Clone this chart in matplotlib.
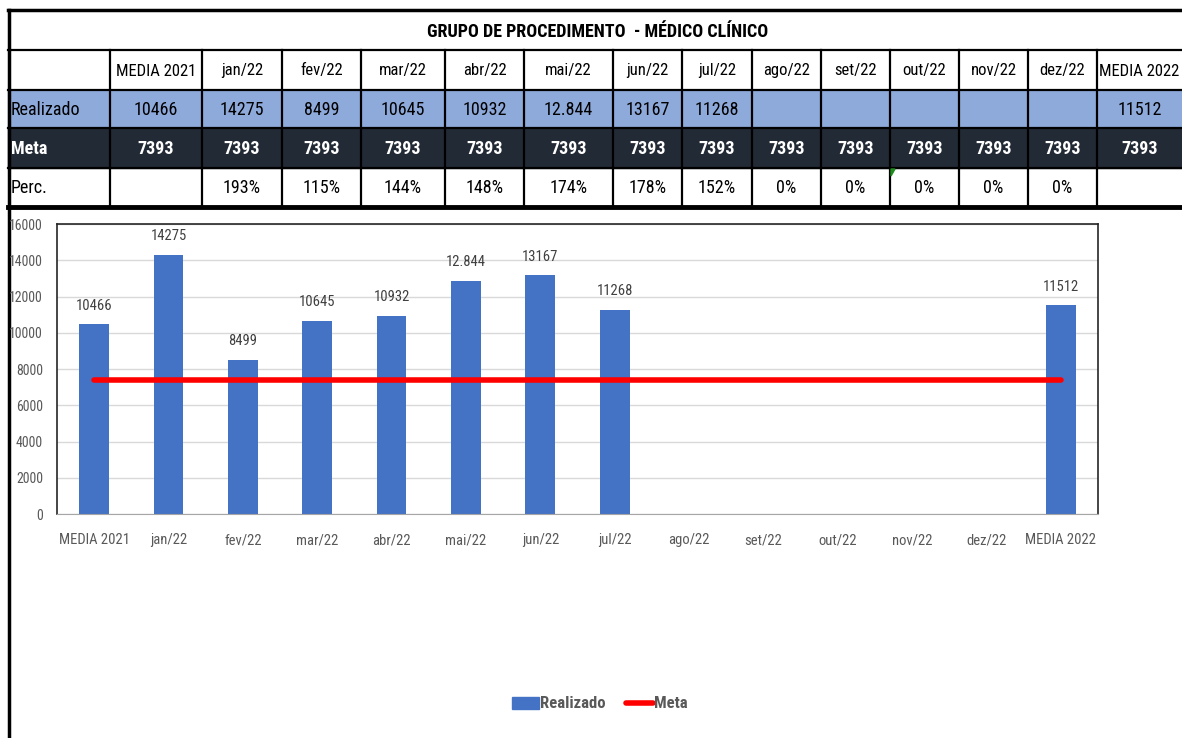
import numpy as np
import matplotlib.pyplot as plt
from matplotlib import font_manager
from matplotlib.patches import Rectangle, Polygon, Patch
from matplotlib.lines import Line2D

# pick the narrowest installed font we can find
nomes = {f.name for f in font_manager.fontManager.ttflist}
fonte = 'DejaVu Sans'
for f in ['Liberation Sans Narrow', 'Roboto Condensed', 'Open Sans Condensed', 'Roboto', 'Liberation Sans']:
    if f in nomes:
        fonte = f
        break
plt.rcParams['font.family'] = [fonte, 'DejaVu Sans']

# data
categorias = ['MEDIA 2021', 'jan/22', 'fev/22', 'mar/22', 'abr/22', 'mai/22', 'jun/22',
              'jul/22', 'ago/22', 'set/22', 'out/22', 'nov/22', 'dez/22', 'MEDIA 2022']
realizado = [10466, 14275, 8499, 10645, 10932, 12844, 13167, 11268,
             None, None, None, None, None, 11512]
realizado_txt = ['10466', '14275', '8499', '10645', '10932', '12.844', '13167', '11268',
                 '', '', '', '', '', '11512']
meta = [7393] * 14
perc = ['', '193%', '115%', '144%', '148%', '174%', '178%', '152%',
        '0%', '0%', '0%', '0%', '0%', '']
titulo = 'GRUPO DE PROCEDIMENTO  - MÉDICO CLÍNICO'

W, H = 1182, 738
fig = plt.figure(figsize=(W / 100, H / 100), dpi=100)

# ---- table drawn on a full-figure axes in pixel units ----
tab = fig.add_axes([0, 0, 1, 1])
tab.set_xlim(0, W)
tab.set_ylim(H, 0)
tab.axis('off')

col_edges = [8, 110, 202, 282, 361, 445, 524, 613, 682, 752, 821, 890, 959, 1028, 1097, 1182]
row_edges = [10, 50, 90, 128, 168, 207]
cor_real = '#8EAADB'
cor_meta = '#222A35'

tab.add_patch(Rectangle((8, 90), W - 8, 38, color=cor_real, zorder=0))
tab.add_patch(Rectangle((8, 128), W - 8, 40, color=cor_meta, zorder=0))

for y in row_edges[1:-1]:
    tab.plot([8, W], [y, y], color='black', lw=1.6, zorder=2)
tab.plot([8, W], [10, 10], color='black', lw=2.5, zorder=2)
tab.plot([8, W], [207, 207], color='black', lw=3.5, zorder=2)
for x in col_edges[1:-1]:
    tab.plot([x, x], [50, 207], color='black', lw=1.6, zorder=2)
tab.plot([9, 9], [10, H], color='black', lw=2.5, zorder=2)

tab.text(598, 32, titulo, ha='center', va='center', fontsize=13, fontweight='bold')

fs_cab = 12
fs = 13
def cx(i):
    return (col_edges[i] + col_edges[i + 1]) / 2

tab.text(11, 110, 'Realizado', ha='left', va='center', fontsize=fs)
tab.text(11, 149, 'Meta', ha='left', va='center', fontsize=fs, fontweight='bold', color='white')
tab.text(11, 188, 'Perc.', ha='left', va='center', fontsize=fs)
for i, c in enumerate(categorias):
    tab.text(cx(i + 1), 71, c, ha='center', va='center', fontsize=fs_cab)
    tab.text(cx(i + 1), 110, realizado_txt[i], ha='center', va='center', fontsize=fs)
    tab.text(cx(i + 1), 149, str(meta[i]), ha='center', va='center', fontsize=fs,
             fontweight='bold', color='white')
    tab.text(cx(i + 1), 188, perc[i], ha='center', va='center', fontsize=fs)

# small green excel marker
tab.add_patch(Polygon([[891, 169], [895, 169], [891, 176]], color='#1E8C1E', zorder=3))

# ---- chart ----
ax = fig.add_axes([57 / W, 1 - 514 / H, 1041 / W, 290 / H])
x = np.arange(len(categorias))
vals = [v if v is not None else 0 for v in realizado]
ax.bar(x, vals, width=0.4, color='#4472C4', zorder=2)
ax.plot(x, meta, color='red', lw=4, solid_capstyle='round', zorder=3)

for xi, v, t in zip(x, vals, realizado_txt):
    if t:
        ax.text(xi, v + 650, t, ha='center', va='bottom', fontsize=10.5, color='#404040')

ax.set_xlim(-0.5, len(categorias) - 0.5)
ax.set_ylim(0, 16000)
ax.set_yticks(range(0, 16001, 2000))
ax.set_xticks(x)
ax.set_xticklabels(categorias)
ax.tick_params(axis='both', length=0, labelsize=10.5, colors='#595959')
ax.tick_params(axis='x', pad=14)
ax.tick_params(axis='y', labelsize=10, pad=10)
ax.grid(axis='y', color='#D9D9D9', lw=1, zorder=0)
for s in ['top', 'left', 'right']:
    ax.spines[s].set_color('#262626')
    ax.spines[s].set_linewidth(1.2)
ax.spines['bottom'].set_color('#A6A6A6')

handles = [Patch(color='#4472C4'), Line2D([], [], color='red', lw=4, solid_capstyle='round')]
leg = fig.legend(handles, ['Realizado', 'Meta'], loc='center', ncol=2,
                 bbox_to_anchor=(600 / W, 1 - 704 / H), frameon=False,
                 prop={'size': 12, 'weight': 'bold'}, handlelength=1.6,
                 handletextpad=0.1, columnspacing=1.2)
for t in leg.get_texts():
    t.set_color('#595959')

fig.savefig('out.png', dpi=100)
